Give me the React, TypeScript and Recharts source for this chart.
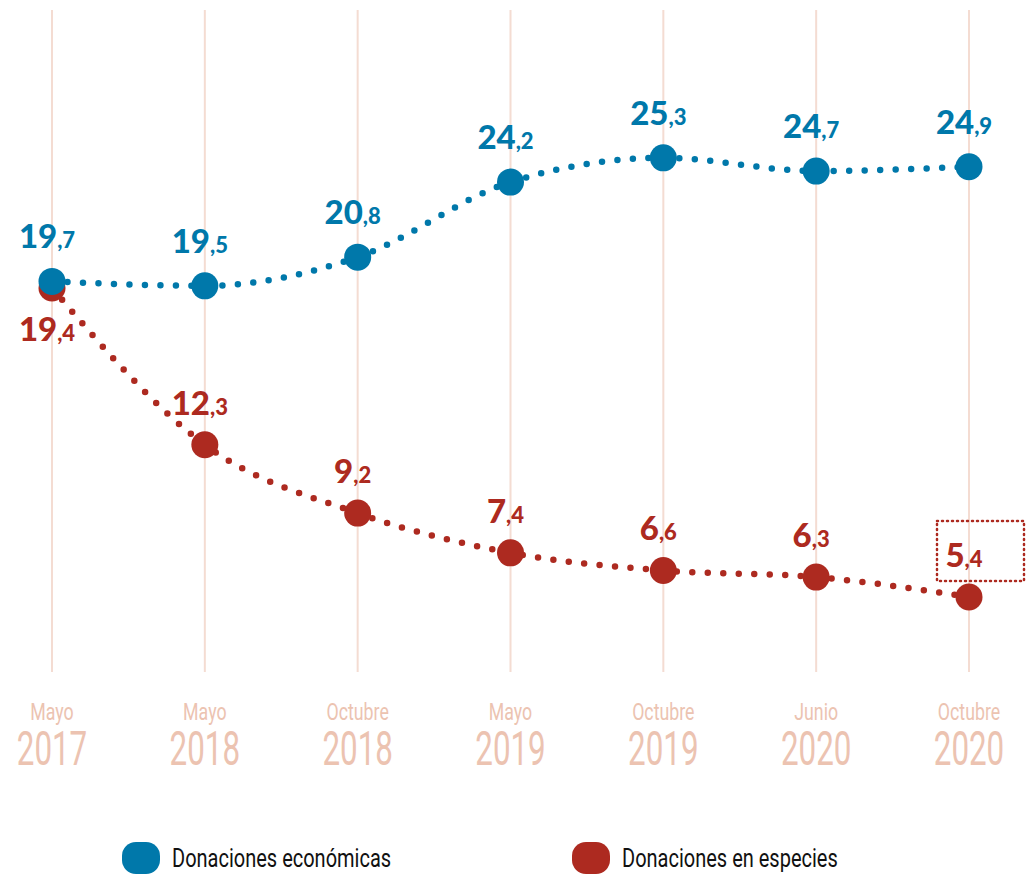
import { LineChart, Line, XAxis, YAxis, CartesianGrid, LabelList, Legend } from "recharts"

const periods = ["Mayo", "Mayo", "Octubre", "Mayo", "Octubre", "Junio", "Octubre"]
const years = ["2017", "2018", "2018", "2019", "2019", "2020", "2020"]
const economicas = [19.7, 19.5, 20.8, 24.2, 25.3, 24.7, 24.9]
const especies = [19.4, 12.3, 9.2, 7.4, 6.6, 6.3, 5.4]

const BLUE = "#0078aa"
const RED = "#ad2a20"
const PINK = "#ecc3b1"
const GRID = "#f4dcd2"
const CONDENSED = "Roboto, 'DejaVu Sans', sans-serif"
const HEAVY = "Lato, 'Open Sans', sans-serif"

const data = periods.map((p, i) => ({
  name: `${p} ${years[i]}`,
  period: p,
  year: years[i],
  economicas: economicas[i],
  especies: especies[i],
}))

// no condensed face installed, so squeeze the glyphs horizontally
const YearTick = ({ x, y, index }: { x?: number; y?: number; index?: number }) => {
  const i = index ?? 0
  return (
    <g transform={`translate(${x},${y})`}>
      <text transform="translate(0,40) scale(0.74,1)" textAnchor="middle" fill={PINK} fontFamily={CONDENSED} fontSize={24}>
        {periods[i]}
      </text>
      <text transform="translate(0,85) scale(0.64,1)" textAnchor="middle" fill={PINK} fontFamily={CONDENSED} fontSize={49}>
        {years[i]}
      </text>
    </g>
  )
}

const makeLabel = (color: string, series: "economicas" | "especies") =>
  function ValueLabel(props: any) {
    const { x, y, value, index } = props
    const [ent, dec] = Number(value).toFixed(1).split(".")
    let dy = -33
    if (series === "especies") dy = index === 0 ? 53 : -30
    return (
      <g>
        {series === "especies" && index === especies.length - 1 && (
          <rect
            x={x - 32}
            y={y - 76}
            width={87}
            height={60}
            fill="none"
            stroke={color}
            strokeWidth={2.5}
            strokeDasharray="1 4"
            strokeLinecap="round"
          />
        )}
        <text x={x - 5} y={y + dy} textAnchor="middle" fill={color} fontFamily={HEAVY} fontWeight={900}>
          <tspan fontSize={33}>{ent}</tspan>
          <tspan fontSize={22}>,{dec}</tspan>
        </text>
      </g>
    )
  }

const makeDot = (color: string) =>
  function Marker(props: any) {
    const { cx, cy, index } = props
    return <circle key={index} cx={cx} cy={cy} r={13.5} fill={color} />
  }

const LegendContent = () => (
  <div style={{ position: "relative", height: 60, fontFamily: CONDENSED, fontSize: 25, color: "#111" }}>
    {[
      { label: "Donaciones económicas", color: BLUE, left: 70 },
      { label: "Donaciones en especies", color: RED, left: 520 },
    ].map((item) => (
      <div key={item.label} style={{ position: "absolute", left: item.left, top: 28, display: "flex", alignItems: "center" }}>
        <span style={{ width: 38, height: 32, borderRadius: 14, background: item.color, display: "inline-block", marginRight: 12 }} />
        <span style={{ display: "inline-block", whiteSpace: "nowrap", transform: "scaleX(0.8)", transformOrigin: "left center" }}>
          {item.label}
        </span>
      </div>
    ))}
  </div>
)

export default function App() {
  return (
    <div>
      <style>{`body{margin:0}`}</style>
      <LineChart width={1026} height={874} data={data} margin={{ top: 10, right: 57, left: 52, bottom: 0 }}>
        <CartesianGrid horizontal={false} stroke={GRID} strokeWidth={2} />
        <XAxis dataKey="name" axisLine={false} tickLine={false} height={142} tick={<YearTick />} interval={0} />
        <YAxis hide domain={[2, 32]} />
        <Legend verticalAlign="bottom" content={<LegendContent />} />
        <Line
          dataKey="especies"
          type="monotone"
          stroke={RED}
          strokeWidth={6.5}
          strokeDasharray="0 15.5"
          strokeLinecap="round"
          dot={makeDot(RED)}
          activeDot={false}
          isAnimationActive={false}
        >
          <LabelList dataKey="especies" content={makeLabel(RED, "especies")} />
        </Line>
        <Line
          dataKey="economicas"
          type="monotone"
          stroke={BLUE}
          strokeWidth={6.5}
          strokeDasharray="0 15.5"
          strokeLinecap="round"
          dot={makeDot(BLUE)}
          activeDot={false}
          isAnimationActive={false}
        >
          <LabelList dataKey="economicas" content={makeLabel(BLUE, "economicas")} />
        </Line>
      </LineChart>
    </div>
  )
}
